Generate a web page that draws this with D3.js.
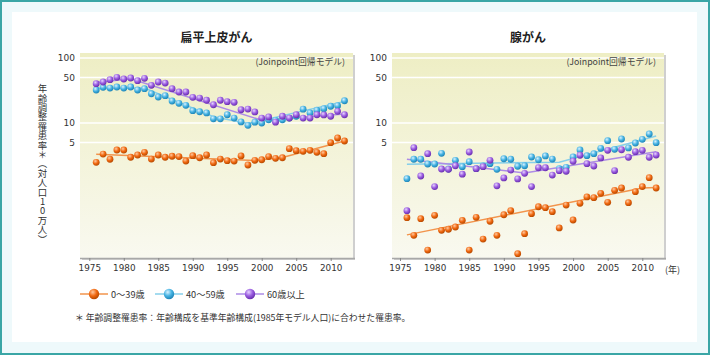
<!DOCTYPE html>
<html><head><meta charset="utf-8">
<script src="https://cdn.jsdelivr.net/npm/d3@7"></script>
<style>body{margin:0;background:#fff}svg{display:block}</style>
</head><body><svg id="c" width="710" height="355"></svg>
<script>
const years = [1976,1977,1978,1979,1980,1981,1982,1983,1984,1985,1986,1987,1988,1989,1990,1991,1992,1993,1994,1995,1996,1997,1998,1999,2000,2001,2002,2003,2004,2005,2006,2007,2008,2009,2010,2011,2012];
const xTicks = [1975,1980,1985,1990,1995,2000,2005,2010];
const yTicks = [100,50,10,5];
const seriesNames = ["0～39歳","40～59歳","60歳以上"];
const panelTitles = ["扁平上皮がん","腺がん"];
const modelNote = "(Joinpoint回帰モデル)";
const yAxisLabel = "年齢調整罹患率＊（対人口10万人）";
const footnote = "＊ 年齢調整罹患率：年齢構成を基準年齢構成(1985年モデル人口)に合わせた罹患率。";

// 扁平上皮がん
const sqYoung = [2.48,3.33,2.77,3.84,3.84,2.97,3.22,3.54,2.79,3.22,2.97,3.08,3.04,2.60,3.14,2.92,3.22,2.45,2.79,2.63,2.60,3.11,2.26,2.67,2.72,3.04,2.86,2.92,4.03,3.75,3.67,3.80,3.54,3.37,4.98,5.88,5.29];
const sqMid   = [32.2,35.4,34.5,35.8,34.5,35.8,32.2,33.7,28.2,25.1,26.3,21.8,20.1,18.7,15.5,14.9,14.3,11.6,11.6,13.4,11.9,10.4,9.2,10.3,10.0,11.2,11.0,11.2,11.9,12.7,16.3,14.3,15.7,16.6,18.1,18.5,22.0];
const sqOld   = [40.3,42.7,46.4,50.5,47.5,49.2,44.8,48.7,38.0,42.7,41.2,33.7,30.0,30.0,24.8,24.2,22.4,19.1,22.4,21.3,20.8,16.0,16.4,14.8,11.9,12.4,10.3,12.7,11.9,13.4,11.9,11.9,13.4,13.3,12.7,15.1,13.4];
const sqYoungTrend = [[1976,3.3],[1999,2.65],[2003,2.95],[2012,5.3]];
const sqMidTrend   = [[1976,34],[1983,34.5],[1993,12.5],[1998,9.8],[2012,21.5]];
const sqOldTrend   = [[1976,42],[1981,48],[2000,11],[2012,13.8]];

// 腺がん
const adYoung = [0.349,0.187,0.337,0.111,0.38,0.223,0.232,0.251,0.318,0.111,0.354,0.164,0.308,0.187,0.388,0.448,0.0975,0.198,0.403,0.515,0.498,0.432,0.243,0.547,0.322,0.582,0.728,0.71,0.828,0.603,0.922,1.0,0.594,0.877,1.05,1.44,1.0];
const adMid   = [1.39,2.77,2.77,2.34,2.34,3.42,1.96,2.67,2.13,2.54,1.98,2.18,2.37,1.94,2.82,2.77,2.16,2.20,3.0,2.72,3.11,2.79,1.98,2.08,3.0,3.84,3.14,3.37,4.08,5.34,3.94,5.67,4.13,4.92,5.61,6.77,4.98];
const adOld   = [0.448,4.17,1.53,3.37,1.05,1.96,1.94,2.20,1.63,3.58,1.98,2.13,2.67,1.08,1.43,1.89,1.38,1.68,1.05,2.05,2.05,1.58,1.85,1.81,2.58,3.19,2.37,2.18,2.9,3.80,1.85,3.88,2.97,3.62,3.80,2.97,3.22];
const adYoungTrend = [[1976,0.19],[2010,1.0],[2012,1.02]];
const adMidTrend   = [[1976,2.32],[1998,2.5],[2012,6.3]];
const adOldTrend   = [[1976,2.77],[1993,1.7],[2012,3.6]];

const palette = [
  {base:"#f06810", hi:"#ffc9a0", dk:"#b84a00", line:"#f2944c"},
  {base:"#45b2e2", hi:"#d8f2ff", dk:"#1f86b8", line:"#86cfea"},
  {base:"#9a5ce0", hi:"#e6d4ff", dk:"#6a30b0", line:"#ad8be6"}
];

const svg = d3.select("#c");
const defs = svg.append("defs");
const CJK = "'Noto Sans CJK JP','Noto Sans',sans-serif";
const NUM = "'DejaVu Sans','Noto Sans CJK JP',sans-serif";

palette.forEach((p,i)=>{
  const g = defs.append("radialGradient").attr("id","ball"+i).attr("cx","38%").attr("cy","32%").attr("r","68%");
  g.append("stop").attr("offset","0%").attr("stop-color",p.hi);
  g.append("stop").attr("offset","55%").attr("stop-color",p.base);
  g.append("stop").attr("offset","100%").attr("stop-color",p.dk);
});
const pg = defs.append("linearGradient").attr("id","pg").attr("x1",0).attr("y1",0).attr("x2",0).attr("y2",1);
pg.append("stop").attr("offset","0%").attr("stop-color","#eeeec4");
pg.append("stop").attr("offset","100%").attr("stop-color","#f9f9f0");

svg.append("rect").attr("x",1).attr("y",1).attr("width",708).attr("height",353)
  .attr("fill","#eef9fb").attr("stroke","#3aa6a6").attr("stroke-width",2);
svg.append("rect").attr("x",12).attr("y",12).attr("width",685).attr("height",330).attr("fill","#fff");

const yTop = 53, yBot = 258;
const y = d3.scaleLog().domain([10,100]).range([123,58]);

const panels = [
  {title:panelTitles[0], x0:80, x1:353, xr:[89.3,330.7], data:[sqYoung,sqMid,sqOld], trends:[sqYoungTrend,sqMidTrend,sqOldTrend], unit:false},
  {title:panelTitles[1], x0:392, x1:664, xr:[400,642.3], data:[adYoung,adMid,adOld], trends:[adYoungTrend,adMidTrend,adOldTrend], unit:true}
];

panels.forEach(p=>{
  const x = d3.scaleLinear().domain([1975,2010]).range(p.xr);
  const g = svg.append("g");
  g.append("rect").attr("x",p.x0+2).attr("y",yTop+2).attr("width",p.x1-p.x0).attr("height",yBot-yTop)
    .attr("fill","#cfcfcf");
  g.append("rect").attr("x",p.x0).attr("y",yTop).attr("width",p.x1-p.x0).attr("height",yBot-yTop)
    .attr("fill","url(#pg)");
  g.selectAll(".grid").data(yTicks).enter().append("line")
    .attr("x1",p.x0).attr("x2",p.x1).attr("y1",d=>y(d)).attr("y2",d=>y(d))
    .attr("stroke","#ffffff").attr("stroke-width",1.5);
  g.append("text").attr("x",(p.x0+p.x1)/2).attr("y",41.5).attr("text-anchor","middle")
    .attr("font-family",CJK).attr("font-weight","bold").attr("font-size",12).attr("fill","#222").text(p.title);
  g.append("text").attr("x",p.x1-8).attr("y",65).attr("text-anchor","end")
    .attr("font-family",CJK).attr("font-size",8.8).attr("fill","#444").text(modelNote);
  const ya = d3.axisLeft(y).tickValues(yTicks).tickSize(0).tickPadding(5).tickFormat(d3.format("d"));
  const yg = g.append("g").attr("transform",`translate(${p.x0},0)`).call(ya);
  yg.select(".domain").remove();
  yg.selectAll("text").attr("font-family",NUM).attr("font-size",9).attr("fill","#333");
  const xa = d3.axisBottom(x).tickValues(xTicks).tickSize(3).tickPadding(4).tickFormat(d3.format("d"));
  const xg = g.append("g").attr("transform",`translate(0,${yBot})`).call(xa);
  xg.select(".domain").attr("d",`M${p.x0},0.5H${p.x1+2}`).attr("stroke","#a8a8a8").attr("stroke-width",1.5);
  xg.selectAll(".tick line").attr("stroke","#888");
  xg.selectAll("text").attr("font-family",NUM).attr("font-size",8.8).attr("fill","#333");
  if(p.unit){
    g.append("text").attr("x",p.x1+1).attr("y",273).attr("font-family",CJK).attr("font-size",9).attr("fill","#333").text("(年)");
  }
  const line = d3.line().x(d=>x(d[0])).y(d=>y(d[1]));
  p.trends.forEach((t,i)=>{
    g.append("path").attr("d",line(t)).attr("fill","none").attr("stroke",palette[i].line).attr("stroke-width",1.5);
  });
  p.data.forEach((s,i)=>{
    g.append("g").selectAll("circle").data(s).enter().append("circle")
      .attr("cx",(d,j)=>x(years[j])).attr("cy",d=>y(d)).attr("r",3.4)
      .attr("fill",`url(#ball${i})`);
  });
});

// y axis label (single vertical text)
svg.append("text").attr("x",42.5).attr("y",84)
  .attr("font-family",CJK).attr("font-size",9.4).attr("fill","#333")
  .style("writing-mode","vertical-rl").style("text-orientation","upright")
  .text(yAxisLabel);

const legX = [80,155,236];
seriesNames.forEach((n,i)=>{
  const lg = svg.append("g");
  lg.append("line").attr("x1",legX[i]).attr("x2",legX[i]+28).attr("y1",294).attr("y2",294)
    .attr("stroke",palette[i].line).attr("stroke-width",1.5);
  lg.append("circle").attr("cx",legX[i]+14).attr("cy",294).attr("r",5.2).attr("fill",`url(#ball${i})`);
  lg.append("text").attr("x",legX[i]+31).attr("y",297.5).attr("font-family",CJK).attr("font-size",9.2).attr("fill","#333").text(n);
});

svg.append("text").attr("x",75).attr("y",321).attr("font-family",CJK).attr("font-size",8.8).attr("fill","#333").text(footnote);
</script>
</body></html>
